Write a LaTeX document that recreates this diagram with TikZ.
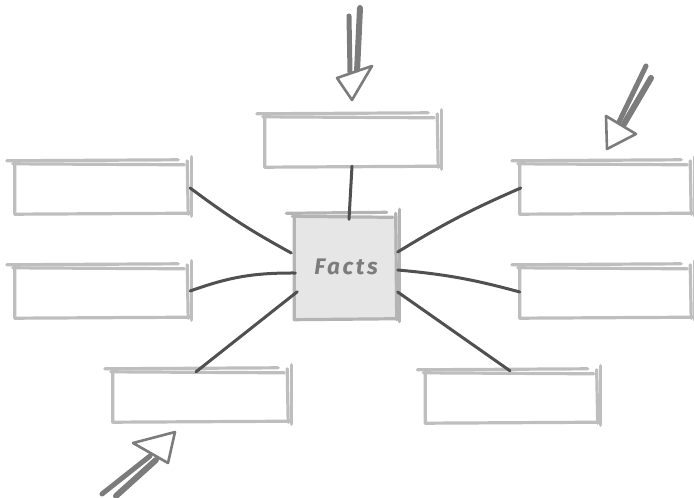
\documentclass[tikz,border=0pt]{standalone}
\usepackage{fontspec}
\newfontfamily\factsfont[LetterSpace=12]{Fira Sans}
\usetikzlibrary{calc}
\definecolor{boxgray}{HTML}{BEBEBE}
\definecolor{cboxgray}{HTML}{B4B4B4}
\definecolor{cfill}{HTML}{E6E6E6}
\definecolor{conngray}{HTML}{505050}
\definecolor{arrowgray}{HTML}{7C7C7C}
\newcommand\sketchframe[2]{%
  \draw[frame,#2] ($(#1.north west)+(-7,-2)$) -- ($(#1.north east)+(-12,-3)$);
  \draw[frame,#2] ($(#1.north west)+(-1,1)$) -- ($(#1.north east)+(-6,2)$);
  \draw[frame,#2] ($(#1.north west)+(1,0)$) -- ($(#1.south west)+(1,1)$) -- ($(#1.south east)+(1,0)$);
  \draw[frame,#2] ($(#1.north east)+(1,-6)$) -- ($(#1.south east)+(1,3)$);
  \draw[frame,#2] ($(#1.north east)+(-3,-2)$) -- ($(#1.south east)+(-2,1)$);
}
\begin{document}
\begin{tikzpicture}[x=1pt,y=-1pt,
  box/.style={rectangle,inner sep=0pt,minimum width=176pt,minimum height=50pt},
  frame/.style={draw=boxgray,line width=3.2pt,line cap=round,line join=round},
  conn/.style={draw=conngray,line width=3pt,line cap=round},
  shaft/.style={draw=arrowgray,line width=5pt,line cap=round},
  ahead/.style={draw=arrowgray,fill=white,line width=2.6pt,line join=round}]
\useasboundingbox (0,0) rectangle (694,498);
% nodes
\node[box] (top) at (352,141) {};
\node[box] (l1) at (102,188) {};
\node[box] (l2) at (102,292) {};
\node[box,minimum width=174pt] (r1) at (606,188) {};
\node[box,minimum width=174pt] (r2) at (606,292) {};
\node[box,minimum width=178pt] (bl) at (201,396) {};
\node[box,minimum width=175pt] (br) at (512,397) {};
\node[rectangle,inner sep=0pt,minimum width=105pt,minimum height=103pt,fill=cfill] (c) at (346,267)
  {\factsfont\bfseries\itshape\fontsize{22.5}{22.5}\selectfont\color{arrowgray}Facts};
% frames
\foreach \n in {top,l1,l2,r1,r2,bl,br} {\sketchframe{\n}{}}
\sketchframe{c}{draw=cboxgray}
% connectors
\draw[conn] (top.south) -- ($(c.north)+(3,4)$);
\draw[conn] (l1.east) to[bend right=4] ($(c.west)+(-2,-14)$);
\draw[conn] ($(l2.east)+(0,-1)$) to[bend left=10] ($(c.west)+(2,6)$);
\draw[conn] ($(bl.north)+(-5,1)$) -- ($(c.south west)+(4,-27)$);
\draw[conn] ($(c.east)+(-1,-15)$) to[bend left=4] ($(r1.west)+(2,0)$);
\draw[conn] ($(c.east)+(-1,3)$) to[bend left=5] ($(r2.west)+(1,0)$);
\draw[conn] ($(c.east)+(-1,25)$) -- ($(br.north)+(-2,-1)$);
% arrows
\coordinate (ta) at (352,100);
\draw[shaft] (349,16) -- (350,72);
\draw[shaft,line width=6pt] (360,8) -- (357,72);
\draw[ahead] (337,78) -- (372,66) -- (ta) -- cycle;
\coordinate (tra) at (607,149);
\draw[shaft] (646,66) -- (619,122);
\draw[shaft,line width=6pt] (651,78) -- (624,124);
\draw[ahead] (606,116) -- (636,134) -- (tra) -- cycle;
\coordinate (bla) at (175,432);
\draw[shaft] (150,456) -- (102,494);
\draw[shaft,line width=6pt] (156,460) -- (116,496);
\draw[ahead] (133,443) -- (bla) -- (168,463) -- cycle;
\end{tikzpicture}
\end{document}
